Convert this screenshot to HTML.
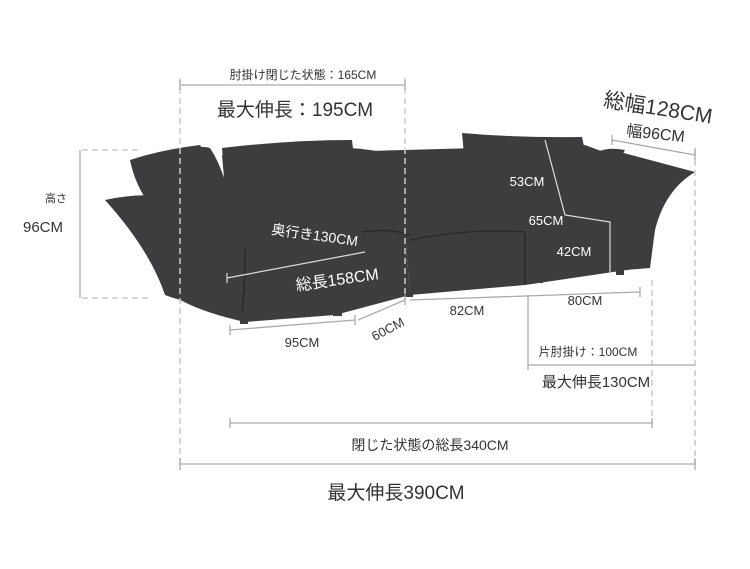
<!DOCTYPE html>
<html><head><meta charset="utf-8"><style>
html,body{margin:0;padding:0;background:#fff;width:750px;height:569px;overflow:hidden}
svg{display:block}
text{font-family:"Liberation Sans","Noto Sans CJK JP",sans-serif}
</style></head><body>
<svg width="750" height="569" viewBox="0 0 750 569">
<g fill="#3d3d3f">
<!-- filler behind -->
<path d="M222 155 L585 145 L625 160 L630 230 L520 230 L410 245 L230 245 Z"/>
<!-- back cushions -->
<path d="M222 148 Q290 140 352 140 L362 230 L230 240 Z"/>
<path d="M350 148 Q380 150 408 158 L410 240 L355 240 Z"/>
<path d="M405 152 Q440 148 465 150 L480 230 L410 240 Z"/>
<path d="M462 133 Q520 138 582 137 Q590 170 585 215 L500 220 L468 200 Z"/>
<!-- left back pillows -->
<path d="M130 160 Q160 150 200 145 Q215 170 225 215 L150 205 Q135 185 130 160 Z"/>
<path d="M180 150 Q200 145 210 148 Q225 170 235 220 L185 220 Z"/>
<!-- left seat module -->
<path d="M150 230 Q200 205 240 222 Q255 240 300 232 L405 232 L410 295 L335 315 L245 322 Q170 305 160 280 Z"/>
<!-- left arm wing -->
<path d="M105 200 Q150 190 210 200 Q245 210 245 250 L242 310 Q190 305 165 295 Q150 250 105 200 Z"/>
<!-- middle seat -->
<path d="M405 232 Q450 220 520 222 Q535 240 525 285 L410 295 Z"/>
<!-- right seat -->
<path d="M518 215 Q570 208 628 220 Q650 240 640 268 L525 285 Z"/>
<!-- right arm -->
<path d="M585 160 Q605 150 620 152 L695 172 Q665 190 655 230 L650 268 L625 270 Q620 230 590 200 Z"/>
<path d="M585 160 Q600 145 625 150 Q610 175 600 215 L590 215 Z"/>
<!-- legs -->
<rect x="240" y="314" width="8" height="10"/><rect x="333" y="308" width="9" height="8"/>
<rect x="405" y="290" width="8" height="7"/><rect x="495" y="280" width="8" height="7"/>
<rect x="535" y="276" width="8" height="7"/><rect x="616" y="268" width="8" height="7"/>
</g>
<g stroke="#2a2a2c" fill="none" stroke-width="1.5">
<path d="M362 232 Q390 228 410 235"/>
<path d="M410 240 Q470 228 525 232"/>
<path d="M525 232 V285"/>
<path d="M245 250 Q245 290 242 312"/>
</g>
<g stroke="#ccc" fill="none" stroke-width="1.5">
<path d="M180 78 V470" stroke-dasharray="6 4"/>
<path d="M405 78 V300" stroke-dasharray="6 4"/>
<path d="M652 280 V425" stroke-dasharray="6 4"/>
<path d="M695 150 V465" stroke-dasharray="6 4"/>
<path d="M82 150 H140 M82 298 H150" stroke-dasharray="6 4"/>
</g>
<g stroke="#aaa" fill="none" stroke-width="1.3">
<path d="M180 85 H405 M180 80 V90 M405 80 V90"/>
<path d="M80 150 V298"/>
<path d="M230 423 H652 M230 418 V428 M652 418 V428"/>
<path d="M180 464 H695 M180 458 V470 M695 458 V470"/>
<path d="M230 330 L355 320 M230 325 V335 M355 315 V325"/>
<path d="M358 320 L405 300 M405 295 V305"/>
<path d="M410 300 L640 292 M640 287 V297"/>
<path d="M528 295 V370"/>
<path d="M528 365 H695"/>
<path d="M612 140 L695 155 M612 135 V145 M695 148 V160"/>
</g>
<g stroke="#ddd" fill="none" stroke-width="1.2">
<path d="M227 278 L365 252 M227 273 V283"/>
<path d="M545 140 L565 215 L610 222 V275"/>
</g>
<g fill="#333" text-anchor="middle">
<text x="303" y="79" font-size="12">肘掛け閉じた状態：165CM</text>
<text x="295" y="116" font-size="19">最大伸長：195CM</text>
<text x="56" y="202" font-size="11">高さ</text>
<text x="43" y="232" font-size="15">96CM</text>
<text x="302" y="347" font-size="13">95CM</text>
<text x="390" y="333" font-size="13" transform="rotate(-28 390 333)">60CM</text>
<text x="467" y="315" font-size="13">82CM</text>
<text x="585" y="305" font-size="13">80CM</text>
<text x="588" y="356" font-size="12">片肘掛け：100CM</text>
<text x="596" y="387" font-size="15">最大伸長130CM</text>
<text x="430" y="450" font-size="14">閉じた状態の総長340CM</text>
<text x="396" y="499" font-size="19">最大伸長390CM</text>
<text x="657" y="115" font-size="21" transform="rotate(9 657 115)">総幅128CM</text>
<text x="655" y="139" font-size="16" transform="rotate(6 655 139)">幅96CM</text>
</g>
<g fill="#fff" text-anchor="middle">
<text x="314" y="240" font-size="14" transform="rotate(8 314 240)">奥行き130CM</text>
<text x="338" y="285" font-size="16" transform="rotate(-8 338 285)">総長158CM</text>
<text x="527" y="186" font-size="13">53CM</text>
<text x="546" y="225" font-size="13">65CM</text>
<text x="574" y="256" font-size="13">42CM</text>
</g>
</svg>
</body></html>
